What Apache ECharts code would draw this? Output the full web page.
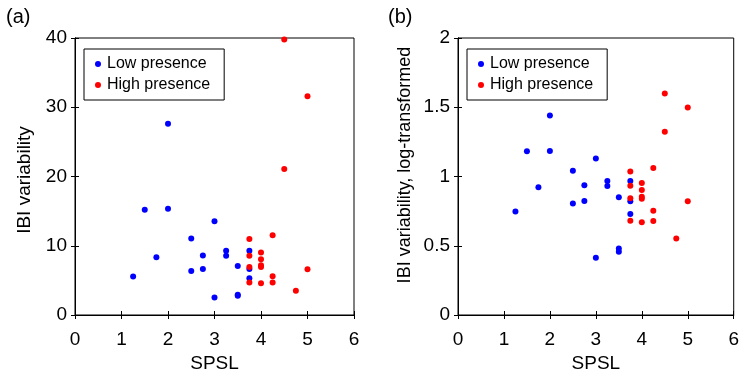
<!DOCTYPE html>
<html>
<head>
<meta charset="utf-8">
<script src="https://cdn.jsdelivr.net/npm/echarts@6/dist/echarts.min.js"></script>
<style>
html,body{margin:0;padding:0;background:#fff;}
#chart{width:742px;height:378px;}
</style>
</head>
<body>
<div id="chart"></div>
<script>
// Panel (a): raw IBI variability
const lowX_a = [1.25, 1.5, 1.75, 2, 2, 2.5, 2.5, 2.75, 2.75, 3, 3, 3.25, 3.25, 3.5, 3.5, 3.5, 3.75, 3.75, 3.75];
const lowY_a = [5.55, 15.2, 8.33, 27.6, 15.36, 11.05, 6.36, 8.6, 6.65, 13.54, 2.54, 9.28, 8.56, 7.08, 2.92, 2.78, 9.28, 6.65, 5.3];
const highX_a = [4.5, 5, 4.5, 4.25, 3.75, 4, 3.75, 4, 4, 4, 3.75, 5, 4.25, 3.75, 4, 4.25, 4.75];
const highY_a = [39.8, 31.6, 21.1, 11.5, 10.96, 9.04, 8.56, 8.04, 7.18, 6.94, 6.94, 6.6, 5.6, 4.69, 4.59, 4.69, 3.49];
// Panel (b): log-transformed IBI variability
const lowX_b = [1.25, 1.5, 1.75, 2, 2, 2.5, 2.5, 2.75, 2.75, 3, 3, 3.25, 3.25, 3.5, 3.5, 3.5, 3.75, 3.75, 3.75];
const lowY_b = [0.748, 1.183, 0.922, 1.441, 1.185, 1.042, 0.805, 0.937, 0.824, 1.13, 0.413, 0.968, 0.932, 0.851, 0.48, 0.456, 0.968, 0.822, 0.729];
const highX_b = [4.5, 5, 4.5, 4.25, 3.75, 4, 3.75, 4, 4, 4, 3.75, 5, 4.25, 3.75, 4, 4.25, 4.75];
const highY_b = [1.599, 1.498, 1.324, 1.061, 1.037, 0.953, 0.934, 0.903, 0.853, 0.839, 0.843, 0.822, 0.753, 0.681, 0.669, 0.679, 0.552];

const xTicks = [0, 1, 2, 3, 4, 5, 6];
const seriesNames = ['Low presence', 'High presence'];
const panelLabels = ['(a)', '(b)'];
const xName = 'SPSL';
const yNames = ['IBI variability', 'IBI variability, log-transformed'];

const FONT = 'Liberation Sans, Arial, Helvetica, sans-serif';
const BLUE = '#0000ff', RED = '#ff0000';

function zip(xs, ys){ return xs.map((x,i)=>[x, ys[i]]); }

const grids = [
  {left: 75, top: 38, width: 279, height: 279, show: true, borderColor: '#000', borderWidth: 1},
  {left: 458, top: 38, width: 280, height: 279, show: true, borderColor: '#000', borderWidth: 1}
];

function xAxes(gi){
  return [
    {gridIndex: gi, type: 'value', position: 'bottom', min: xTicks[0], max: xTicks[xTicks.length-1], interval: 1,
     axisLine: {show: true, lineStyle: {color: '#000', width: 1}},
     axisTick: {show: true, inside: true, length: 4, lineStyle: {color: '#000'}},
     axisLabel: {color: '#000', fontSize: 19, fontFamily: FONT, margin: 15},
     splitLine: {show: false},
     name: xName, nameLocation: 'middle', nameGap: 39,
     nameTextStyle: {color: '#000', fontSize: 19, fontFamily: FONT}},
    {gridIndex: gi, type: 'value', position: 'top', min: xTicks[0], max: xTicks[xTicks.length-1], interval: 1,
     axisLine: {show: true, lineStyle: {color: '#000', width: 1}},
     axisTick: {show: true, inside: true, length: 4, lineStyle: {color: '#000'}},
     axisLabel: {show: false}, splitLine: {show: false}}
  ];
}
function yAxes(gi, max, interval){
  return [
    {gridIndex: gi, type: 'value', position: 'left', min: 0, max: max, interval: interval,
     axisLine: {show: true, lineStyle: {color: '#000', width: 1}},
     axisTick: {show: true, inside: true, length: 4, lineStyle: {color: '#000'}},
     axisLabel: {color: '#000', fontSize: 19, fontFamily: FONT, margin: 8},
     splitLine: {show: false}},
    {gridIndex: gi, type: 'value', position: 'right', min: 0, max: max, interval: interval,
     axisLine: {show: true, lineStyle: {color: '#000', width: 1}},
     axisTick: {show: true, inside: true, length: 4, lineStyle: {color: '#000'}},
     axisLabel: {show: false}, splitLine: {show: false}}
  ];
}

function legendAt(left){
  return {
    left: left, top: 49, orient: 'vertical',
    data: seriesNames.map(n=>({name: n, icon: 'circle'})),
    itemWidth: 6, itemHeight: 6, itemGap: 5,
    padding: [7, 14, 7, 11],
    backgroundColor: '#fff', borderColor: '#000', borderWidth: 1, borderRadius: 0,
    textStyle: {color: '#000', fontSize: 16, fontFamily: FONT, lineHeight: 16, padding: [0,0,0,1]},
    selectedMode: false
  };
}

function sc(name, data, color, xi, yi){
  return {type: 'scatter', name: name, data: data, xAxisIndex: xi, yAxisIndex: yi,
    symbol: 'circle', symbolSize: 6, itemStyle: {color: color, opacity: 1}, silent: true, z: 3};
}

const chart = echarts.init(document.getElementById('chart'), null, {renderer: 'canvas'});
chart.setOption({
  animation: false,
  backgroundColor: '#fff',
  grid: grids,
  xAxis: xAxes(0).concat(xAxes(1)),
  yAxis: yAxes(0, 40, 10).concat(yAxes(1, 2, 0.5)),
  legend: [legendAt(84), legendAt(467)],
  series: [
    sc(seriesNames[0], zip(lowX_a, lowY_a), BLUE, 0, 0),
    sc(seriesNames[1], zip(highX_a, highY_a), RED, 0, 0),
    sc(seriesNames[0], zip(lowX_b, lowY_b), BLUE, 2, 2),
    sc(seriesNames[1], zip(highX_b, highY_b), RED, 2, 2)
  ],
  graphic: [
    {type: 'text', left: 6, top: 7, style: {text: panelLabels[0], fontSize: 20, fontFamily: FONT, fill: '#000'}},
    {type: 'text', left: 388, top: 7, style: {text: panelLabels[1], fontSize: 20, fontFamily: FONT, fill: '#000'}},
    {type: 'text', x: 25, y: 180, rotation: Math.PI/2,
     style: {text: yNames[0], fontSize: 19, fontFamily: FONT, fill: '#000', align: 'center', verticalAlign: 'middle'}},
    {type: 'text', x: 405, y: 165, rotation: Math.PI/2,
     style: {text: yNames[1], fontSize: 18, fontFamily: FONT, fill: '#000', align: 'center', verticalAlign: 'middle'}}
  ]
});
</script>
</body>
</html>
